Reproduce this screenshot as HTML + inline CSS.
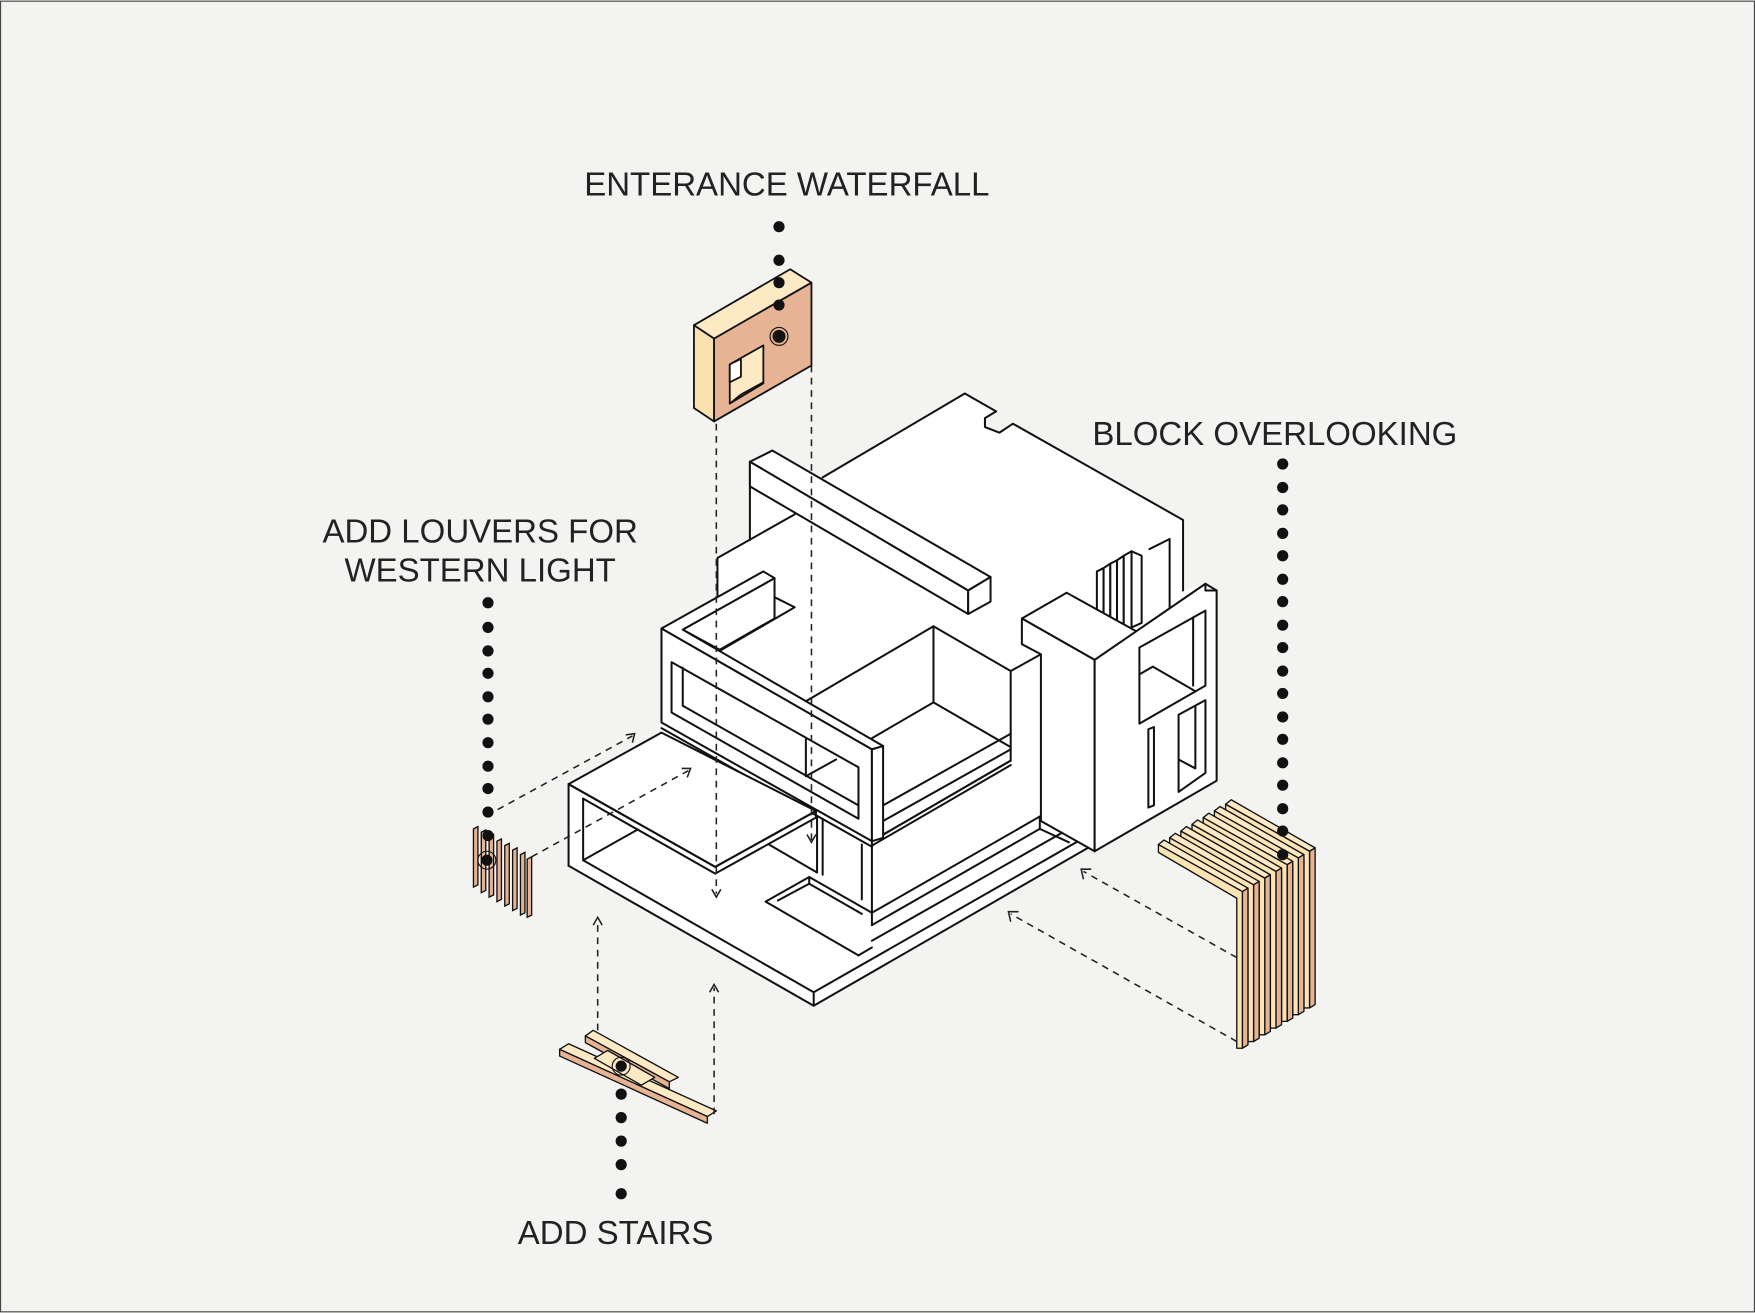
<!DOCTYPE html>
<html><head><meta charset="utf-8"><style>
html,body{margin:0;padding:0;background:#f3f4f2;}
svg{display:block;}
text{font-family:"Liberation Sans",sans-serif;fill:#222;}
</style></head><body>
<svg width="1755" height="1313" viewBox="0 0 1568 1172" xmlns="http://www.w3.org/2000/svg">
<rect x="0.5" y="0.5" width="1567" height="1171" fill="#f3f4f2" stroke="#444" stroke-width="1"/>
<polygon fill="#fff" points="508,700 591,654 591,561 641,532 641,498 670,482 670,412 690,402 735,426 862,351 890,367 880,373 880,381 893,386 905,378 1057,464 1057,527 1077,521 1087,527 1087,697 978,760 972,757 727,898 508,773"/>
<g stroke="#111" stroke-width="1.8" stroke-linejoin="round" stroke-linecap="round" fill="none">
<polyline points="735,426 862,351 890,367 880,373 880,381 893,386 905,378 1057,464 1057,527"/>
<g fill="#fff">
<polygon points="980,510 986,507 986,555 980,558"/>
<polygon points="986,507 992,503 992,557 986,560"/>
<polygon points="992,503 998,500 998,558 992,561"/>
<polygon points="998,500 1004,496 1004,559 998,562"/>
<polygon points="1004,496 1011,492 1011,560 1004,563"/>
<polygon points="1011,492 1020,496 1020,556 1011,560"/>
</g>
<polyline points="1027,490 1045,481 1045,575"/>
<line x1="670" y1="412" x2="670" y2="482"/>
<polygon fill="#fff" points="670,412 690,402 885,515 865,527"/>
<polygon fill="#fff" points="670,412 865,527 865,548 670,434"/>
<polygon fill="#fff" points="865,527 885,515 885,537 865,548"/>
<polyline points="641,561 641,498 710,459"/>
<polygon fill="#fff" points="720,626 834,559 903,599 903,679 779,751 779,669"/>
<polyline points="834,559 834,627 903,667"/>
<line x1="834" y1="627" x2="779" y2="659"/>
<line x1="789" y1="719" x2="903" y2="655"/>
<line x1="789" y1="733" x2="903" y2="669"/>
<line x1="779" y1="751" x2="903" y2="679"/>
<line x1="779" y1="755" x2="903" y2="683"/>
<polyline points="903,599 930,584"/>
<polygon fill="#fff" points="610,562 692,516 692,552 643,580"/>
<polyline points="692,533 710,542 643,581"/>
<polygon fill="#fff" points="591,561 682,510 692,516 610,562 789,666 779,669"/>
<polygon fill="#fff" points="591,561 779,669 779,751 591,645"/>
<polygon fill="#fff" points="779,669 789,666 789,748 779,751"/>
<polygon fill="#fff" points="600,591 767,685 767,731 600,636"/>
<polyline points="610,596 610,630 767,719"/>
<polyline points="720,660 720,693 747,678"/>
<line x1="591" y1="650" x2="779" y2="756"/>
<polygon fill="#fff" points="508,700 591,654 729,724 639,774"/>
<polyline points="508,700 508,773"/>
<polyline points="508,700 639,774 729,724 729,730 639,780 521,713"/>
<polyline points="521,713 521,768 569,741"/>
<polyline points="687,754 730,779"/>
<line x1="730" y1="730" x2="730" y2="779"/>
<line x1="735" y1="731" x2="735" y2="781"/>
<line x1="770" y1="754" x2="770" y2="803"/>
<line x1="779" y1="751" x2="779" y2="826"/>
<polyline points="521,768 727,886 972,746 972,757 727,898 508,773"/>
<line x1="727" y1="886" x2="727" y2="898"/>
<polyline points="767,853 684,805 723,783 779,815"/>
<polyline points="695,804 723,789 770,816"/>
<polyline points="723,783 723,789"/>
<polyline points="767,853 779,846"/>
<polyline points="779,815 929,729 972,746"/>
<polyline points="779,826 929,740 955,752"/>
<polyline points="929,729 929,740"/>
<polyline points="779,840 955,740"/>
<polygon fill="#fff" points="913,552 953,529 1018,565 978,589"/>
<polygon fill="#fff" points="913,552 978,589 978,760 930,733 930,584 913,575"/>
<polygon fill="#fff" points="978,589 1077,521 1087,527 1087,697 978,760"/>
<polyline points="1077,521 1077,527 1087,527"/>
<polygon fill="#fff" points="1018,578 1077,545 1077,612 1018,646"/>
<polyline points="1018,602 1030,595 1068,617"/>
<polyline points="1066,551 1066,612"/>
<polygon fill="#fff" points="1053,638 1077,625 1077,690 1053,707"/>
<polyline points="1053,678 1068,686 1068,630"/>
<polygon fill="#fff" points="1026,651 1031,649 1031,719 1026,721"/>
</g>
<g stroke="#111" stroke-width="1.6" stroke-linejoin="round">
<polygon points="620,290 706,240 725,252 638,302" fill="#fde9c4"/>
<polygon points="620,290 638,302 638,376 620,364" fill="#fbe0b0"/>
<polygon points="638,302 725,252 725,326 638,376" fill="#e6b494"/>
<polygon points="652,325 682,308 682,342 652,360" fill="#fde9c4"/>
<polygon points="652,325 662,320 662,336 652,341" fill="#fff"/>
<polyline points="652,360 662,352 682,341" fill="none"/>
<circle cx="696" cy="300" r="8" fill="none" stroke-width="1"/>
<circle cx="696" cy="300" r="5" fill="#5a2a10"/>
</g>
<g stroke="#111" stroke-width="1.2">
<polygon points="423,740 427,738 427,790 423,792" fill="#e6b494"/>
<polygon points="430,743 434,741 434,795 430,797" fill="#e6b494"/>
<polygon points="437,747 441,745 441,799 437,801" fill="#e6b494"/>
<polygon points="444,751 448,749 448,803 444,805" fill="#e6b494"/>
<polygon points="451,755 455,753 455,807 451,809" fill="#e6b494"/>
<polygon points="458,759 462,757 462,811 458,813" fill="#e6b494"/>
<polygon points="465,763 469,761 469,815 465,817" fill="#e6b494"/>
<polygon points="471,767 475,765 475,817 471,819" fill="#e6b494"/>
<circle cx="435" cy="768" r="8" fill="none" stroke-width="1"/>
</g>
<g stroke="#111" stroke-width="1.2" stroke-linejoin="round">
<g id="rl">
<polygon points="1095,718 1100,714 1175,757 1170,760" fill="#fde9c4"/>
<polygon points="1170,760 1175,757 1175,897 1170,900" fill="#e6b494"/>
<polygon points="1095,718 1170,760 1170,900 1165,900 1165,766 1095,725" fill="#fbe3b3"/>
</g>
<use href="#rl" transform="translate(-10,6)"/>
<use href="#rl" transform="translate(-20,12)"/>
<use href="#rl" transform="translate(-30,18)"/>
<use href="#rl" transform="translate(-40,24)"/>
<use href="#rl" transform="translate(-50,30)"/>
<use href="#rl" transform="translate(-60,36)"/>
</g>
<g stroke="#111" stroke-width="1.2" stroke-linejoin="round">
<polygon points="500,937 508,932 640,992 632,997" fill="#fde9c4"/>
<polygon points="500,937 632,997 632,1003 500,943" fill="#e6b494"/>
<polygon points="523,925 530,920 606,962 598,966" fill="#fde9c4"/>
<polygon points="523,925 598,966 598,972 523,931" fill="#e6b494"/>
<polygon points="531,945 543,938 585,962 573,969" fill="#fde9c4"/>
<circle cx="555" cy="952" r="8" fill="none" stroke-width="1"/>
</g>
<g stroke="#222" stroke-width="1.4" stroke-dasharray="6,5" fill="none">
<line x1="640" y1="378" x2="640" y2="798"/>
<line x1="725" y1="326" x2="725" y2="750"/>
<line x1="435" y1="728" x2="565" y2="657"/>
<line x1="475" y1="765" x2="615" y2="688"/>
<line x1="534" y1="920" x2="534" y2="822"/>
<line x1="638" y1="995" x2="638" y2="882"/>
<line x1="1105" y1="855" x2="968" y2="778"/>
<line x1="1105" y1="930" x2="903" y2="816"/>
</g>
<g stroke="#222" stroke-width="1.4" fill="none">
<polyline points="636,794 640,801 644,794"/>
<polyline points="721,745 725,752 729,745"/>
<polyline points="559,656 567,655 565,663"/>
<polyline points="609,686 617,686 614,694"/>
<polyline points="530,826 534,819 538,826"/>
<polyline points="634,886 638,879 642,886"/>
<polyline points="968,785 966,776 975,776"/>
<polyline points="903,823 901,814 910,814"/>
</g>
<g fill="#111">
<circle cx="696" cy="202" r="5"/><circle cx="696" cy="232" r="5"/><circle cx="696" cy="252" r="5"/><circle cx="696" cy="272" r="5"/><circle cx="696" cy="300" r="4"/>
<circle cx="1146" cy="414" r="5"/><circle cx="1146" cy="435" r="5"/><circle cx="1146" cy="455" r="5"/><circle cx="1146" cy="476" r="5"/><circle cx="1146" cy="496" r="5"/><circle cx="1146" cy="517" r="5"/><circle cx="1146" cy="537" r="5"/><circle cx="1146" cy="558" r="5"/><circle cx="1146" cy="578" r="5"/><circle cx="1146" cy="599" r="5"/><circle cx="1146" cy="619" r="5"/><circle cx="1146" cy="640" r="5"/><circle cx="1146" cy="660" r="5"/><circle cx="1146" cy="681" r="5"/><circle cx="1146" cy="701" r="5"/><circle cx="1146" cy="722" r="5"/><circle cx="1146" cy="742" r="5"/><circle cx="1146" cy="763" r="5"/>
<circle cx="436" cy="538" r="5"/><circle cx="436" cy="560" r="5"/><circle cx="436" cy="581" r="5"/><circle cx="436" cy="601" r="5"/><circle cx="436" cy="622" r="5"/><circle cx="436" cy="642" r="5"/><circle cx="436" cy="663" r="5"/><circle cx="436" cy="684" r="5"/><circle cx="436" cy="704" r="5"/><circle cx="436" cy="725" r="5"/><circle cx="436" cy="746" r="5"/><circle cx="435" cy="768" r="5"/>
<circle cx="555" cy="952" r="5"/><circle cx="555" cy="977" r="5"/><circle cx="555" cy="998" r="5"/><circle cx="555" cy="1019" r="5"/><circle cx="555" cy="1040" r="5"/><circle cx="555" cy="1066" r="5"/>
</g>
<text x="703" y="174" font-size="29.5" text-anchor="middle">ENTERANCE WATERFALL</text>
<text x="976" y="397" font-size="29.5" fill="#111">BLOCK OVERLOOKING</text>
<text x="429" y="484" font-size="29.5" text-anchor="middle">ADD LOUVERS FOR</text>
<text x="429" y="519" font-size="29.5" text-anchor="middle">WESTERN LIGHT</text>
<text x="550" y="1111" font-size="29.5" text-anchor="middle">ADD STAIRS</text>
</svg>
</body></html>
